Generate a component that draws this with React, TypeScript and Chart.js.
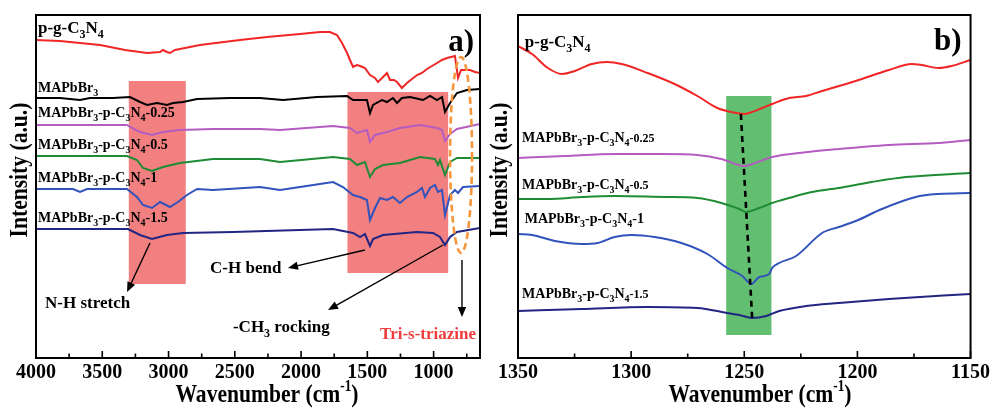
import React, { useEffect, useRef } from "react";
import { Chart, registerables } from "chart.js";

Chart.register(...registerables);

const SERIF = '"Liberation Serif", "Times New Roman", "DejaVu Serif", serif';

// ---------------- Panel a) : full range ----------------
const A_MIN = 650;
const A_MAX = 4000;
const A_TICKS = [4000, 3500, 3000, 2500, 2000, 1500, 1000];
const A_MINOR_TICKS = [3750, 3250, 2750, 2250, 1750, 1250, 750];

const WN_A_PG = [4000, 3819, 3517, 3328, 3162, 3064, 3042, 3012, 2989, 2951, 2914, 2763, 2461, 2257, 2008, 1857, 1782, 1729, 1691, 1653, 1631, 1608, 1578, 1555, 1518, 1480, 1442, 1420, 1389, 1352, 1329, 1299, 1276, 1239, 1201, 1163, 1125, 1088, 1050, 1012, 974, 937, 899, 869, 839, 816, 793, 763, 725, 688, 650];
const I_A_PG = [318, 317, 313, 308, 305, 306, 308, 306, 305, 308, 309, 313, 318, 321, 324, 326, 326, 323, 315, 305, 298, 291, 293, 292, 290, 283, 280, 276, 280, 285, 278, 278, 276, 270, 275, 279, 283, 285, 289, 292, 295, 298, 300, 301, 302, 280, 288, 288, 288, 286, 285];

const WN_A_MAPB = [4000, 3819, 3668, 3593, 3419, 3291, 3215, 3162, 3087, 3012, 2966, 2891, 2785, 2536, 2310, 2136, 1880, 1653, 1608, 1503, 1480, 1457, 1389, 1352, 1307, 1276, 1239, 1178, 1080, 1027, 974, 937, 914, 876, 824, 748, 650];
const I_A_MAPB = [260, 260, 258, 260, 260, 261, 256, 253, 255, 253, 255, 256, 259, 260, 260, 258, 261, 262, 258, 258, 245, 253, 258, 256, 260, 255, 260, 261, 258, 262, 258, 261, 246, 255, 265, 268, 269];

const WN_A_025 = [4000, 3517, 3313, 3261, 3215, 3125, 3042, 2914, 2665, 2310, 2159, 1759, 1631, 1578, 1503, 1480, 1442, 1352, 1254, 1103, 974, 937, 914, 876, 824, 650];
const I_A_025 = [233, 233, 233, 229, 226, 223, 226, 228, 229, 229, 228, 232, 230, 225, 228, 216, 223, 226, 230, 233, 230, 228, 217, 224, 229, 234];

const WN_A_05 = [4000, 3313, 3238, 3193, 3125, 3042, 2914, 2665, 2310, 2159, 1759, 1631, 1578, 1518, 1480, 1442, 1382, 1254, 1103, 990, 967, 952, 914, 876, 824, 650];
const I_A_05 = [202, 202, 198, 190, 187, 191, 195, 199, 199, 196, 201, 199, 193, 196, 181, 189, 193, 195, 201, 199, 193, 198, 183, 196, 200, 200];

const WN_A_1 = [4000, 3721, 3668, 3615, 3313, 3238, 3193, 3125, 3064, 2989, 2929, 2861, 2785, 2665, 2310, 2159, 2008, 1759, 1684, 1608, 1555, 1503, 1480, 1442, 1404, 1352, 1307, 1254, 1201, 1125, 1088, 1065, 1027, 990, 967, 937, 914, 876, 839, 816, 778, 650];
const I_A_1 = [169, 169, 166, 169, 169, 161, 153, 150, 156, 151, 156, 163, 169, 168, 171, 168, 171, 176, 171, 163, 161, 158, 138, 150, 160, 158, 161, 155, 161, 166, 170, 161, 170, 173, 166, 168, 143, 163, 168, 165, 171, 172];

const WN_A_15 = [4000, 3306, 3215, 3125, 3012, 2891, 2514, 1759, 1608, 1555, 1518, 1480, 1457, 1382, 1125, 1005, 952, 914, 876, 824, 650];
const I_A_15 = [129, 129, 123, 119, 123, 125, 126, 129, 125, 121, 124, 112, 119, 123, 126, 125, 121, 113, 121, 126, 130];

// ---------------- Panel b) : zoom 1350-1150 ----------------
const B_MIN = 1150;
const B_MAX = 1350;
const B_TICKS = [1350, 1300, 1250, 1200, 1150];
const B_MINOR_TICKS = [1325, 1275, 1225, 1175];

const WN_B_PG = [1350, 1343.8, 1336.8, 1330.6, 1324.9, 1317.4, 1310.8, 1304.2, 1292.7, 1280.8, 1270.7, 1261.9, 1255.7, 1250.0, 1247.8, 1242.1, 1237.7, 1230.2, 1222.7, 1215.6, 1200.7, 1186.1, 1176.0, 1171.6, 1164.1, 1158.4, 1150];
const I_B_PG = [312, 304, 290, 284, 287, 294, 296, 294, 285, 274, 262, 250, 246, 244, 245, 250, 254, 260, 262, 267, 277, 288, 294, 293, 290, 292, 298];

const WN_B_025 = [1350, 1329.3, 1307.3, 1285.2, 1270.7, 1260.1, 1250.0, 1247.8, 1237.7, 1225.8, 1208.2, 1186.1, 1164.1, 1150];
const I_B_025 = [200, 202, 204, 204, 203, 199, 192, 193, 201, 205, 209, 213, 215, 218];

const WN_B_05 = [1350, 1336.8, 1321.8, 1307.3, 1285.2, 1270.7, 1260.1, 1252.2, 1249.1, 1243.4, 1237.7, 1230.2, 1220.1, 1208.2, 1193.6, 1178.6, 1150];
const I_B_05 = [159, 159, 161, 162, 161, 160, 155, 149, 146, 150, 155, 160, 166, 170, 176, 181, 185];

const WN_B_1 = [1350, 1343.8, 1333.7, 1321.8, 1314.8, 1307.3, 1299.8, 1289.7, 1277.8, 1266.3, 1257.5, 1250.9, 1246.9, 1243.4, 1239.0, 1237.7, 1234.6, 1227.1, 1215.6, 1208.2, 1200.7, 1189.2, 1174.2, 1164.1, 1150];
const I_B_1 = [124, 123, 117, 114, 115, 121, 123, 121, 115, 104, 90, 82, 74, 81, 84, 90, 95, 102, 125, 131, 137, 149, 161, 164, 165];

const WN_B_15 = [1350, 1321.8, 1292.7, 1270.7, 1257.5, 1252.2, 1246.5, 1240.3, 1234.6, 1222.7, 1208.2, 1186.1, 1150];
const I_B_15 = [47, 49, 51, 50, 45, 43, 40, 42, 47, 52, 55, 59, 64];

const Y_MIN = 0;
const Y_MAX = 343;

const C_RED = "rgb(240,38,38)";
const C_BLACK = "#000000";
const C_PURPLE = "rgb(180,92,192)";
const C_GREEN = "rgb(30,140,52)";
const C_BLUE = "rgb(50,82,188)";
const C_NAVY = "rgb(34,38,130)";

// title parts: [text, isSuperscript]
const X_TITLE: [string, boolean][] = [["Wavenumber (cm", false], ["-1", true], [")", false]];
const Y_TITLE: [string, boolean][] = [["Intensity (a.u.)", false]];

// ---------------- helpers ----------------
function zip(xs: number[], ys: number[]) {
  return xs.map((x, i) => ({ x, y: ys[i] }));
}

function drawRich(ctx: CanvasRenderingContext2D, text: string, px: number, py: number, size: number, color: string, align: string, smallSize?: number) {
  const runs: any[] = [];
  let small = false;
  for (let i = 0; i < text.length; i++) {
    const c = text[i];
    if (c === "~") { small = true; continue; }
    if (c === "_" && i + 1 < text.length) { runs.push({ t: text[i + 1], sub: true }); i++; continue; }
    const s = small && smallSize ? smallSize : size;
    const last = runs[runs.length - 1];
    if (last && !last.sub && last.s === s) last.t += c;
    else runs.push({ t: c, sub: false, s });
  }
  const font = (s: number) => `bold ${s}px ${SERIF}`;
  const subSize = Math.round(size * 0.68);
  let total = 0;
  for (const r of runs) {
    ctx.font = font(r.sub ? subSize : r.s);
    r.w = ctx.measureText(r.t).width;
    total += r.w;
  }
  let cx = align === "right" ? px - total : align === "center" ? px - total / 2 : px;
  ctx.fillStyle = color;
  ctx.textBaseline = "alphabetic";
  ctx.textAlign = "left";
  for (const r of runs) {
    ctx.font = font(r.sub ? subSize : r.s);
    ctx.fillText(r.t, cx, r.sub ? py + size * 0.28 : py);
    cx += r.w;
  }
}

// axis title: centred on (cx) along its direction, with given baseline, slightly condensed
function drawTitle(ctx: CanvasRenderingContext2D, parts: [string, boolean][], cx: number, cy: number, size: number, sx: number, rotate: boolean) {
  ctx.save();
  ctx.translate(cx, cy);
  if (rotate) ctx.rotate(-Math.PI / 2);
  ctx.scale(sx, 1);
  const supSize = Math.round(size * 0.6);
  let total = 0;
  const widths = parts.map(([t, sup]) => {
    ctx.font = `bold ${sup ? supSize : size}px ${SERIF}`;
    const w = ctx.measureText(t).width;
    total += w;
    return w;
  });
  let x = -total / 2;
  ctx.fillStyle = "#000";
  ctx.textBaseline = "alphabetic";
  ctx.textAlign = "left";
  parts.forEach(([t, sup], i) => {
    ctx.font = `bold ${sup ? supSize : size}px ${SERIF}`;
    ctx.fillText(t, x, sup ? -size * 0.42 : 0);
    x += widths[i];
  });
  ctx.restore();
}

function drawArrow(ctx: CanvasRenderingContext2D, x0: number, y0: number, x1: number, y1: number) {
  const a = Math.atan2(y1 - y0, x1 - x0);
  const L = 10, W = 4.2;
  ctx.beginPath();
  ctx.moveTo(x0, y0);
  ctx.lineTo(x1 - Math.cos(a) * L * 0.8, y1 - Math.sin(a) * L * 0.8);
  ctx.stroke();
  ctx.beginPath();
  ctx.moveTo(x1, y1);
  ctx.lineTo(x1 - L * Math.cos(a) + W * Math.sin(a), y1 - L * Math.sin(a) - W * Math.cos(a));
  ctx.lineTo(x1 - L * Math.cos(a) - W * Math.sin(a), y1 - L * Math.sin(a) + W * Math.cos(a));
  ctx.closePath();
  ctx.fill();
}

function overlayPlugin(o: any) {
  return {
    id: "overlay",
    beforeDatasetsDraw(chart: any) {
      const { ctx } = chart;
      const x = chart.scales.x, y = chart.scales.y;
      ctx.save();
      for (const r of o.rects) {
        const x0 = x.getPixelForValue(r.x0), x1 = x.getPixelForValue(r.x1);
        const y0 = y.getPixelForValue(r.y0), y1 = y.getPixelForValue(r.y1);
        ctx.fillStyle = r.color;
        ctx.fillRect(Math.min(x0, x1), Math.min(y0, y1), Math.abs(x1 - x0), Math.abs(y1 - y0));
      }
      ctx.restore();
    },
    afterDatasetsDraw(chart: any) {
      const { ctx, chartArea: ca } = chart;
      const x = chart.scales.x, y = chart.scales.y;
      ctx.save();
      for (const e of o.ellipses || []) {
        const cx = x.getPixelForValue(e.cx), cy = y.getPixelForValue(e.cy);
        const rx = Math.abs(x.getPixelForValue(e.cx + e.rx) - cx);
        const ry = Math.abs(y.getPixelForValue(e.cy + e.ry) - cy);
        ctx.beginPath();
        ctx.setLineDash([7, 4]);
        ctx.lineWidth = 2.6;
        ctx.strokeStyle = e.color;
        ctx.ellipse(cx, cy, rx, ry, 0, 0, Math.PI * 2);
        ctx.stroke();
      }
      ctx.setLineDash([]);
      for (const d of o.dashed || []) {
        ctx.beginPath();
        ctx.setLineDash([6, 5]);
        ctx.lineWidth = 2.6;
        ctx.strokeStyle = d.color;
        ctx.moveTo(x.getPixelForValue(d.x0), y.getPixelForValue(d.y0));
        ctx.lineTo(x.getPixelForValue(d.x1), y.getPixelForValue(d.y1));
        ctx.stroke();
      }
      ctx.setLineDash([]);
      ctx.strokeStyle = "#000";
      ctx.fillStyle = "#000";
      ctx.lineWidth = 1.4;
      for (const a of o.arrows || []) {
        drawArrow(ctx, x.getPixelForValue(a.x0), y.getPixelForValue(a.y0), x.getPixelForValue(a.x1), y.getPixelForValue(a.y1));
      }
      for (const t of o.texts || []) {
        drawRich(ctx, t.text, x.getPixelForValue(t.x), y.getPixelForValue(t.y), t.size, t.color || "#000", t.align || "left", t.small);
      }
      ctx.strokeStyle = "#000";
      ctx.lineWidth = 2;
      ctx.strokeRect(ca.left, ca.top, ca.right - ca.left, ca.bottom - ca.top);
      ctx.lineWidth = 1.6;
      for (const v of o.majors) {
        const px = x.getPixelForValue(v);
        ctx.beginPath(); ctx.moveTo(px, ca.bottom); ctx.lineTo(px, ca.bottom - 7); ctx.stroke();
      }
      for (const v of o.minors) {
        const px = x.getPixelForValue(v);
        ctx.beginPath(); ctx.moveTo(px, ca.bottom); ctx.lineTo(px, ca.bottom - 4.5); ctx.stroke();
      }
      ctx.restore();
    },
    afterDraw(chart: any) {
      const { ctx } = chart;
      drawTitle(ctx, X_TITLE, o.xTitle.cx, o.xTitle.base, 26, 0.83, false);
      drawTitle(ctx, Y_TITLE, o.yTitle.base, o.yTitle.cy, 26, 0.83, true);
    },
  };
}

function line(data: any[], color: string, smooth: boolean) {
  return {
    data,
    borderColor: color,
    backgroundColor: color,
    borderWidth: 2,
    pointRadius: 0,
    fill: false,
    tension: 0,
    cubicInterpolationMode: smooth ? "monotone" : "default",
  };
}

function makeConfig(p: any) {
  const tickFont = { family: SERIF, size: 20, weight: "bold" };
  return {
    type: "line",
    data: { datasets: p.datasets },
    options: {
      animation: false,
      responsive: true,
      maintainAspectRatio: false,
      events: [],
      layout: { padding: { top: 15, right: p.padRight, left: 0, bottom: 0 } },
      plugins: { legend: { display: false }, tooltip: { enabled: false } },
      scales: {
        x: {
          type: "linear",
          min: p.min,
          max: p.max,
          reverse: true,
          afterBuildTicks: (s: any) => { s.ticks = p.ticks.map((v: number) => ({ value: v })); },
          afterFit: (s: any) => { s.height = 55; },
          grid: { display: false, drawTicks: false },
          border: { display: false },
          ticks: { padding: 3, color: "#000", font: tickFont, maxRotation: 0, autoSkip: false, callback: (v: any) => String(v) },
          title: { display: false },
        },
        y: {
          type: "linear",
          min: Y_MIN,
          max: Y_MAX,
          afterFit: (s: any) => { s.width = p.yWidth; },
          grid: { display: false, drawTicks: false },
          border: { display: false },
          ticks: { display: false },
          title: { display: false },
        },
      },
    },
    plugins: [overlayPlugin(p.overlay)],
  };
}

const configA = () => makeConfig({
  min: A_MIN, max: A_MAX, ticks: A_TICKS, padRight: 8, yWidth: 36,
  datasets: [
    line(zip(WN_A_PG, I_A_PG), C_RED, false),
    line(zip(WN_A_MAPB, I_A_MAPB), C_BLACK, false),
    line(zip(WN_A_025, I_A_025), C_PURPLE, false),
    line(zip(WN_A_05, I_A_05), C_GREEN, false),
    line(zip(WN_A_1, I_A_1), C_BLUE, false),
    line(zip(WN_A_15, I_A_15), C_NAVY, false),
  ],
  overlay: {
    xTitle: { cx: 267, base: 402 },
    yTitle: { base: 27, cy: 170 },
    majors: A_TICKS,
    minors: A_MINOR_TICKS,
    rects: [
      { x0: 3300, x1: 2870, y0: 74, y1: 277, color: "rgb(242,128,128)" },
      { x0: 1650, x1: 890, y0: 85, y1: 266, color: "rgb(242,128,128)" },
    ],
    ellipses: [{ cx: 793, cy: 203, rx: 83, ry: 98, color: "rgb(245,150,60)" }],
    arrows: [
      { x0: 3140, y0: 115, x1: 3313, y1: 66 },
      { x0: 1518, y0: 108, x1: 2099, y1: 90 },
      { x0: 929, y0: 113, x1: 1797, y1: 48 },
      { x0: 786, y0: 98, x1: 786, y1: 41 },
    ],
    texts: [
      { text: "p-g-C_3N_4", x: 3985, y: 325, size: 17 },
      { text: "MAPbBr_3", x: 3985, y: 266, size: 14 },
      { text: "MAPbBr_3-p-C_3N_4-0.25", x: 3985, y: 241, size: 14 },
      { text: "MAPbBr_3-p-C_3N_4-0.5", x: 3985, y: 209, size: 14 },
      { text: "MAPbBr_3-p-C_3N_4-1", x: 3985, y: 176, size: 14 },
      { text: "MAPbBr_3-p-C_3N_4-1.5", x: 3985, y: 136, size: 14 },
      { text: "N-H stretch", x: 3932, y: 50, size: 17 },
      { text: "C-H bend", x: 2687, y: 85, size: 17 },
      { text: "-CH_3 rocking", x: 2514, y: 26, size: 17 },
      { text: "Tri-s-triazine", x: 1404, y: 19, size: 17, color: "rgb(240,60,60)" },
      { text: "a)", x: 695, y: 307, size: 31, align: "right" },
    ],
  },
});

const configB = () => makeConfig({
  min: B_MIN, max: B_MAX, ticks: B_TICKS, padRight: 21, yWidth: 30,
  datasets: [
    line(zip(WN_B_PG, I_B_PG), C_RED, true),
    line(zip(WN_B_025, I_B_025), C_PURPLE, true),
    line(zip(WN_B_05, I_B_05), C_GREEN, true),
    line(zip(WN_B_1, I_B_1), C_BLUE, true),
    line(zip(WN_B_15, I_B_15), C_NAVY, true),
  ],
  overlay: {
    xTitle: { cx: 272, base: 402 },
    yTitle: { base: 19, cy: 170 },
    majors: B_TICKS,
    minors: B_MINOR_TICKS,
    rects: [{ x0: 1258, x1: 1238, y0: 23, y1: 262, color: "rgb(98,190,112)" }],
    dashed: [{ x0: 1251.5, y0: 244, x1: 1246.5, y1: 39, color: "#000" }],
    texts: [
      { text: "p-g-C_3N_4", x: 1347, y: 311, size: 17 },
      { text: "MAPbBr_3-p-C_3N_4~-0.25", x: 1348.2, y: 216, size: 14, small: 12 },
      { text: "MAPbBr_3-p-C_3N_4~-0.5", x: 1348.2, y: 169, size: 14, small: 12 },
      { text: "MAPbBr_3-p-C_3N_4-1", x: 1347, y: 135, size: 14 },
      { text: "MAPbBr_3-p-C_3N_4~-1.5", x: 1348.2, y: 60, size: 14, small: 12 },
      { text: "b)", x: 1154, y: 308, size: 31, align: "right" },
    ],
  },
});

function ChartPanel({ config, left, width }: { config: () => any; left: number; width: number }) {
  const ref = useRef<HTMLCanvasElement | null>(null);
  useEffect(() => {
    if (!ref.current) return;
    const chart = new Chart(ref.current, config());
    return () => chart.destroy();
  }, [config]);
  return (
    <div style={{ position: "absolute", left, top: 0, width, height: 413 }}>
      <canvas ref={ref} />
    </div>
  );
}

export default function App() {
  return (
    <div style={{ position: "absolute", left: 0, top: 0, width: 993, height: 413, background: "#fff", overflow: "hidden" }}>
      <ChartPanel config={configA} left={0} width={488} />
      <ChartPanel config={configB} left={488} width={505} />
    </div>
  );
}
